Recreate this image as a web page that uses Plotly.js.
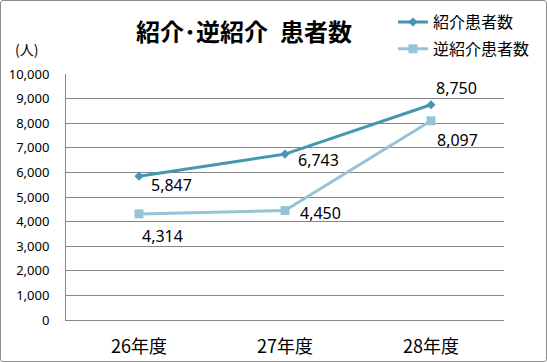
<!DOCTYPE html>
<html><head><meta charset="utf-8">
<script src="https://cdn.plot.ly/plotly-3.0.1.min.js"></script>
<style>
html,body{margin:0;padding:0;background:#fff;}
#wrap{position:relative;width:547px;height:362px;}
#chart{width:547px;height:362px;}
#frame{position:absolute;left:0;top:0;width:545px;height:360px;border:1px solid #8c8c8c;border-radius:3px;pointer-events:none;}
</style></head>
<body>
<div id="wrap"><div id="chart"></div><div id="frame"></div></div>
<script>
const categories = ['26年度', '27年度', '28年度'];
const referralName = '紹介患者数';
const referral = [5847, 6743, 8750];
const reverseName = '逆紹介患者数';
const reverseReferral = [4314, 4450, 8097];
const yTicks = [0,1000,2000,3000,4000,5000,6000,7000,8000,9000,10000];

const fontFam = 'Noto Sans, Noto Sans CJK JP, sans-serif';
const cjk = 'Noto Sans CJK JP, Noto Sans, sans-serif';
const c1 = '#4397ae', c2 = '#95c4d6';

const traces = [
  {x: categories, y: referral, name: referralName, type: 'scatter', mode: 'lines+markers',
   line: {color: c1, width: 3}, marker: {symbol: 'diamond', size: 7, color: c1},
   legendgroup: 'a'},
  {x: categories, y: reverseReferral, name: reverseName, type: 'scatter', mode: 'lines+markers',
   line: {color: c2, width: 3}, marker: {symbol: 'square', size: 9, color: c2},
   legendgroup: 'b'}
];

// label offsets in px (x right, y down)
const shifts1 = [[32,9],[33,6],[25,-17]];
const shifts2 = [[23,22],[35,2],[26,19]];
const annotations = [];
referral.forEach((v,i)=>annotations.push({x: categories[i], y: v, xref:'x', yref:'y', text: v.toLocaleString('en-US'),
  showarrow:false, xanchor:'center', yanchor:'middle', xshift: shifts1[i][0], yshift: -shifts1[i][1],
  font:{family: fontFam, size:16, color:'#000'}}));
reverseReferral.forEach((v,i)=>annotations.push({x: categories[i], y: v, xref:'x', yref:'y', text: v.toLocaleString('en-US'),
  showarrow:false, xanchor:'center', yanchor:'middle', xshift: shifts2[i][0], yshift: -shifts2[i][1],
  font:{family: fontFam, size:16, color:'#000'}}));
annotations.push({xref:'paper', yref:'paper', x:(26.5-66)/438, y:(320-48)/246.5, text:'(人)', showarrow:false,
  xanchor:'center', yanchor:'middle', font:{family: cjk, size:14, color:'#000'}});

const layout = {
  width: 547, height: 362,
  margin: {l: 66, r: 43, t: 73.5, b: 42, pad: 0, autoexpand: false},
  paper_bgcolor: '#fff', plot_bgcolor: '#fff',
  title: {text: '<b>紹介･逆紹介\u2002患者数</b>', font: {family: cjk, size: 24, color: '#000'},
    x: 244/547, xanchor: 'center', y: 1 - 33/362, yanchor: 'middle'},
  showlegend: true,
  legend: {x: (393-66)/438, xanchor: 'left', y: (320-4.5)/246.5, yanchor: 'top',
    font: {family: cjk, size: 16, color: '#000'}, tracegroupgap: 3, traceorder: 'grouped',
    bgcolor: 'rgba(0,0,0,0)'},
  xaxis: {type: 'category', range: [-0.5, 2.5], showgrid: false,
    zeroline: false, showline: true, linecolor: '#868686', linewidth: 1, ticks: '',
    ticklabelstandoff: 10, tickfont: {family: cjk, size: 18, color: '#000'}},
  yaxis: {range: [0, 10000], tickmode: 'array', tickvals: yTicks,
    ticktext: yTicks.map(v=>v.toLocaleString('en-US')), showgrid: true, gridcolor: '#868686', gridwidth: 1,
    zeroline: false, showline: true, linecolor: '#868686', linewidth: 1, ticks: '',
    ticklabelstandoff: 13, tickfont: {family: fontFam, size: 13, color: '#000'}},
  annotations: annotations
};
Plotly.newPlot('chart', traces, layout, {displayModeBar: false, staticPlot: true});
</script>
</body></html>
